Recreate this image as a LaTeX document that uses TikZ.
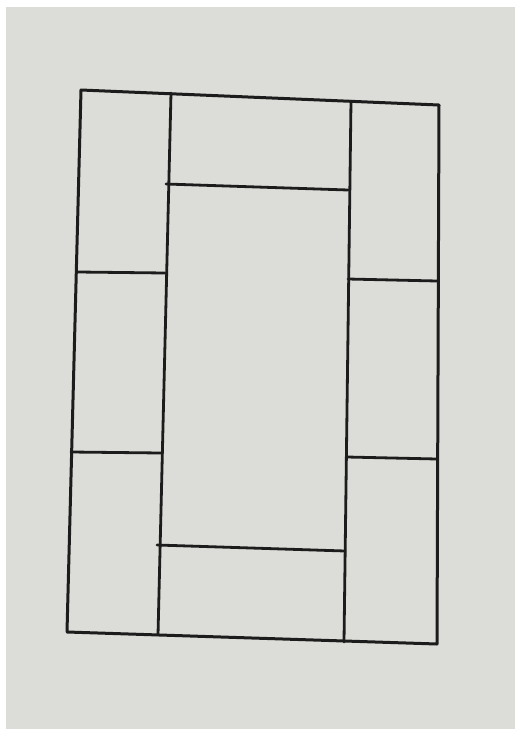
\documentclass[tikz,border=0pt]{standalone}
\usepackage{tikz}
\usetikzlibrary{calc}

\definecolor{paper}{RGB}{220,220,216}
\definecolor{ink}{RGB}{28,28,28}

\begin{document}
\begin{tikzpicture}[
    x=1pt, y=-1pt,
    frame/.style={draw=ink, line width=3pt, line join=round},
    split/.style={draw=ink, line width=2.8pt, line cap=round}
]

% Page
\fill[white] (0,0) rectangle (519,729);
\fill[paper] (6,7) rectangle (515,729);
\useasboundingbox (0,0) rectangle (519,729);

% Outer frame
\coordinate (tl) at (81,90);
\coordinate (tr) at (439,105);
\coordinate (br) at (437,644);
\coordinate (bl) at (67,632);
\draw[frame] (tl) -- (tr) -- (br) -- (bl) -- cycle;

% Column dividers
\coordinate (lt) at (171,93);
\coordinate (lb) at (158,635);
\coordinate (rt) at (351,101);
\coordinate (rb) at (344,642);
\draw[split] (lt) -- (lb);
\draw[split] (rt) -- (rb);

% Middle column: top and bottom pieces
\draw[split] (166,184) -- (348,190);
\draw[split] (157,545) -- (345,551);

% Left column
\draw[split] (78,272) -- (165,273);
\draw[split] (71,452) -- (161,453);

% Right column
\draw[split] (348,279) -- (437,281);
\draw[split] (347,457) -- (437,459);

\end{tikzpicture}
\end{document}
